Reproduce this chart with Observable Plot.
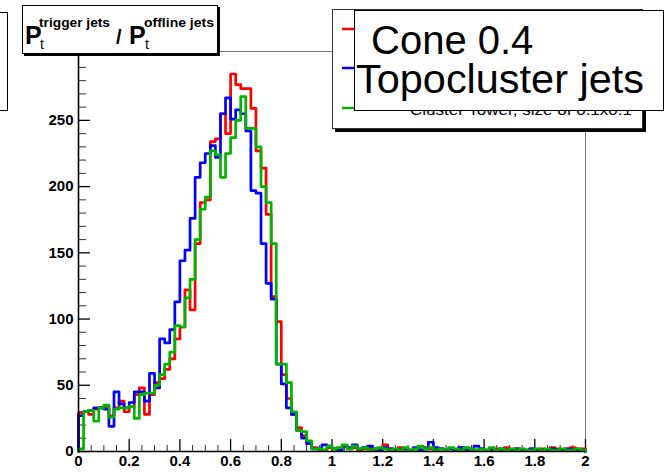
<!DOCTYPE html>
<html>
<head>
<meta charset="utf-8">
<script src="https://cdn.jsdelivr.net/npm/d3@7"></script>
<script src="https://cdn.jsdelivr.net/npm/@observablehq/plot@0.6"></script>
<style>
  body { margin: 0; background: #fff; }
  #wrap { position: relative; width: 666px; height: 474px; overflow: hidden;
          font-family: "Liberation Sans", Arial, Helvetica, sans-serif; background: #fff; }
  #wrap > svg { position: absolute; left: 0; top: 0; }
  .box { position: absolute; background: #fff; border: 1px solid #000; box-sizing: border-box; }
  .box svg { position: absolute; left: -1px; top: -1px; overflow: visible; }
  g[aria-label="x-axis tick label"] text, g[aria-label="y-axis tick label"] text { font-weight: bold; }
</style>
</head>
<body>
<div id="wrap"></div>
<script>
// Ratio of trigger-jet to offline-jet transverse momentum, 100 bins on [0, 2].
const binWidth = 0.02;

const redCounts = [
  29, 30, 28, 32, 33, 34, 27, 33, 38, 30,
  34, 43, 48, 28, 43, 52, 55, 62, 70, 85,
  94, 122, 107, 157, 188, 190, 234, 236, 255, 240,
  285, 277, 274, 274, 259, 227, 214, 179, 117, 98,
  58, 40, 28, 18, 12, 6, 3,
  2, 1, 3, 2, 1, 4, 2, 3, 1, 2,
  3, 1, 2, 5, 2, 1, 3, 2, 1, 2,
  1, 3, 2, 1, 2, 1, 2, 1, 3, 1,
  2, 1, 2, 1, 1, 2, 1, 3, 1, 2,
  1, 1, 2, 1, 2, 1, 3, 2, 1, 2,
  3, 2, 2
];

const blueCounts = [
  27, 30, 31, 33, 33, 32, 19, 45, 36, 33,
  37, 45, 45, 38, 59, 48, 85, 82, 92, 113,
  144, 152, 176, 207, 218, 225, 231, 222, 255, 267,
  251, 258, 255, 242, 197, 195, 157, 127, 115, 66,
  51, 33, 28, 16, 10, 6, 2,
  2, 5, 4, 2, 1, 4, 3, 5, 2, 3,
  4, 2, 1, 3, 2, 1, 1, 2, 1, 3,
  1, 2, 7, 3, 2, 1, 2, 1, 3, 2,
  1, 4, 2, 1, 2, 1, 2, 1, 1, 2,
  1, 1, 2, 1, 1, 1, 2, 1, 1, 2,
  1, 1, 1
];

const greenCounts = [
  2, 30, 31, 23, 33, 35, 26, 32, 33, 33,
  34, 25, 43, 44, 44, 50, 58, 66, 75, 95,
  94, 116, 130, 160, 183, 192, 227, 224, 207, 225,
  237, 250, 268, 244, 244, 230, 200, 188, 157, 66,
  66, 52, 30, 16, 15, 8, 2,
  2, 1, 4, 2, 3, 5, 2, 4, 2, 3,
  1, 2, 3, 2, 1, 2, 1, 3, 1, 2,
  4, 2, 3, 1, 2, 1, 3, 2, 1, 3,
  2, 1, 2, 1, 3, 1, 2, 1, 2, 1,
  2, 1, 1, 2, 1, 2, 1, 1, 2, 1,
  1, 2, 1
];

const seriesColors = ["#ff0000", "#0000ff", "#00b400"];

const xTickLabels = [0, 0.2, 0.4, 0.6, 0.8, 1, 1.2, 1.4, 1.6, 1.8, 2];
const xMinorTicks = [0.05, 0.1, 0.15, 0.25, 0.3, 0.35, 0.45, 0.5, 0.55, 0.65, 0.7, 0.75,
  0.85, 0.9, 0.95, 1.05, 1.1, 1.15, 1.25, 1.3, 1.35, 1.45, 1.5, 1.55, 1.65, 1.7, 1.75,
  1.85, 1.9, 1.95];
const yTickLabels = [0, 50, 100, 150, 200, 250];
const yMinorTicks = [10, 20, 30, 40, 60, 70, 80, 90, 110, 120, 130, 140, 160, 170, 180, 190,
  210, 220, 230, 240, 260, 270, 280, 290];

const titleParts = { main: "P", upper1: "trigger jets", lower: "t", slash: "/", upper2: "offline jets" };
const legendTitle = ["Cone 0.4", "Topocluster jets"];
const hiddenEntryText = "Cluster Tower, size of 0.1x0.1";

// Turn bin contents into a closed step outline from the baseline.
function outline(counts) {
  const pts = [{x: 0, y: 0}];
  counts.forEach((v, i) => pts.push({x: i * binWidth, y: v}));
  const end = counts.length * binWidth;
  pts.push({x: end, y: counts[counts.length - 1]});
  pts.push({x: end, y: 0});
  return pts;
}

const W = 666, H = 474;
const mL = 78, mR = 81, mT = 51, mB = 23;
const innerW = W - mL - mR, innerH = H - mT - mB;

const chart = Plot.plot({
  width: W, height: H,
  marginLeft: mL, marginRight: mR, marginTop: mT, marginBottom: mB,
  style: { fontFamily: "'Liberation Sans', Arial, Helvetica, sans-serif", background: "transparent", color: "#000" },
  x: { domain: [0, 2], label: null },
  y: { domain: [0, 302], label: null },
  marks: [
    Plot.frame({ stroke: "#777", strokeWidth: 1 }),
    Plot.tickY(yMinorTicks, { y: d => d, insetRight: innerW - 8, stroke: "#333", strokeWidth: 1 }),
    Plot.tickY(yTickLabels, { y: d => d, insetRight: innerW - 12, stroke: "#000", strokeWidth: 1.3 }),
    Plot.tickX(xMinorTicks, { x: d => d, insetTop: innerH - 6, stroke: "#333", strokeWidth: 1 }),
    Plot.tickX(xTickLabels, { x: d => d, insetTop: innerH - 12, stroke: "#000", strokeWidth: 1.3 }),
    Plot.line(outline(redCounts), { x: "x", y: "y", curve: "step-after", stroke: seriesColors[0], strokeWidth: 2.7 }),
    Plot.line(outline(blueCounts), { x: "x", y: "y", curve: "step-after", stroke: seriesColors[1], strokeWidth: 2.7 }),
    Plot.line(outline(greenCounts), { x: "x", y: "y", curve: "step-after", stroke: seriesColors[2], strokeWidth: 2.7 }),
    Plot.ruleX([0], { stroke: "#000", strokeWidth: 1.6 }),
    Plot.ruleY([0], { stroke: "#000", strokeWidth: 1.6 }),
    Plot.axisY({ ticks: yTickLabels, tickSize: 0, tickPadding: 5, fontSize: 15, fontWeight: "bold", tickFormat: d => String(d), label: null }),
    Plot.axisX({ ticks: xTickLabels, tickSize: 0, tickPadding: 4, fontSize: 15, fontWeight: "bold", tickFormat: d => String(d), label: null })
  ]
});

const wrap = document.getElementById("wrap");
wrap.appendChild(chart);

const NS = "http://www.w3.org/2000/svg";
function svgText(svg, str, x, y, attrs = {}) {
  const t = document.createElementNS(NS, "text");
  t.setAttribute("x", x);
  t.setAttribute("y", y);
  for (const [k, v] of Object.entries(attrs)) t.setAttribute(k, v);
  t.textContent = str;
  svg.appendChild(t);
  return t;
}
function box(left, top, w, h, extra = "") {
  const d = document.createElement("div");
  d.className = "box";
  d.style.cssText = `left:${left}px;top:${top}px;width:${w}px;height:${h}px;${extra}`;
  const s = document.createElementNS(NS, "svg");
  s.setAttribute("width", w);
  s.setAttribute("height", h);
  d.appendChild(s);
  wrap.appendChild(d);
  return s;
}

// Statistics box, mostly outside the canvas on the left.
box(-2, 12, 10, 99);

// Title box: P_t^{trigger jets} / P_t^{offline jets}
const ts = box(22, 5, 196, 49, "box-shadow:2px 2px 0 #000;");
const ff = "'Liberation Sans', Arial, sans-serif";
svgText(ts, titleParts.main, 3, 39, { "font-size": 25, "font-weight": "bold", "font-family": ff });
svgText(ts, titleParts.upper1, 17, 22, { "font-size": 13, "font-weight": "bold", "font-family": ff, textLength: 71, lengthAdjust: "spacingAndGlyphs" });
svgText(ts, titleParts.lower, 18, 44, { "font-size": 14, "font-family": ff });
svgText(ts, titleParts.slash, 94, 39, { "font-size": 20, "font-weight": "bold", "font-family": ff });
svgText(ts, titleParts.main, 107, 39, { "font-size": 25, "font-weight": "bold", "font-family": ff });
svgText(ts, titleParts.upper2, 122, 22, { "font-size": 13, "font-weight": "bold", "font-family": ff, textLength: 70, lengthAdjust: "spacingAndGlyphs" });
svgText(ts, titleParts.lower, 123, 44, { "font-size": 14, "font-family": ff });

// Legend with line samples, partly covered by the label box.
const ls = box(332, 9, 311, 120, "box-shadow:3px 3px 0 #000;border-color:#333;");
[20, 59, 99].forEach((yy, i) => {
  const l = document.createElementNS(NS, "line");
  l.setAttribute("x1", 10); l.setAttribute("x2", 24);
  l.setAttribute("y1", yy); l.setAttribute("y2", yy);
  l.setAttribute("stroke", seriesColors[i]);
  l.setAttribute("stroke-width", 2.5);
  ls.appendChild(l);
});
svgText(ls, hiddenEntryText, 78, 106, { "font-size": 15, "font-family": ff, textLength: 222, lengthAdjust: "spacingAndGlyphs" });

// Label box on top.
const fs = box(354, 10, 310, 101);
svgText(fs, legendTitle[0], 17, 44, { "font-size": 40, "font-family": ff });
svgText(fs, legendTitle[1], 2, 83, { "font-size": 40.5, "font-family": ff, textLength: 288, lengthAdjust: "spacingAndGlyphs" });
</script>
</body>
</html>
